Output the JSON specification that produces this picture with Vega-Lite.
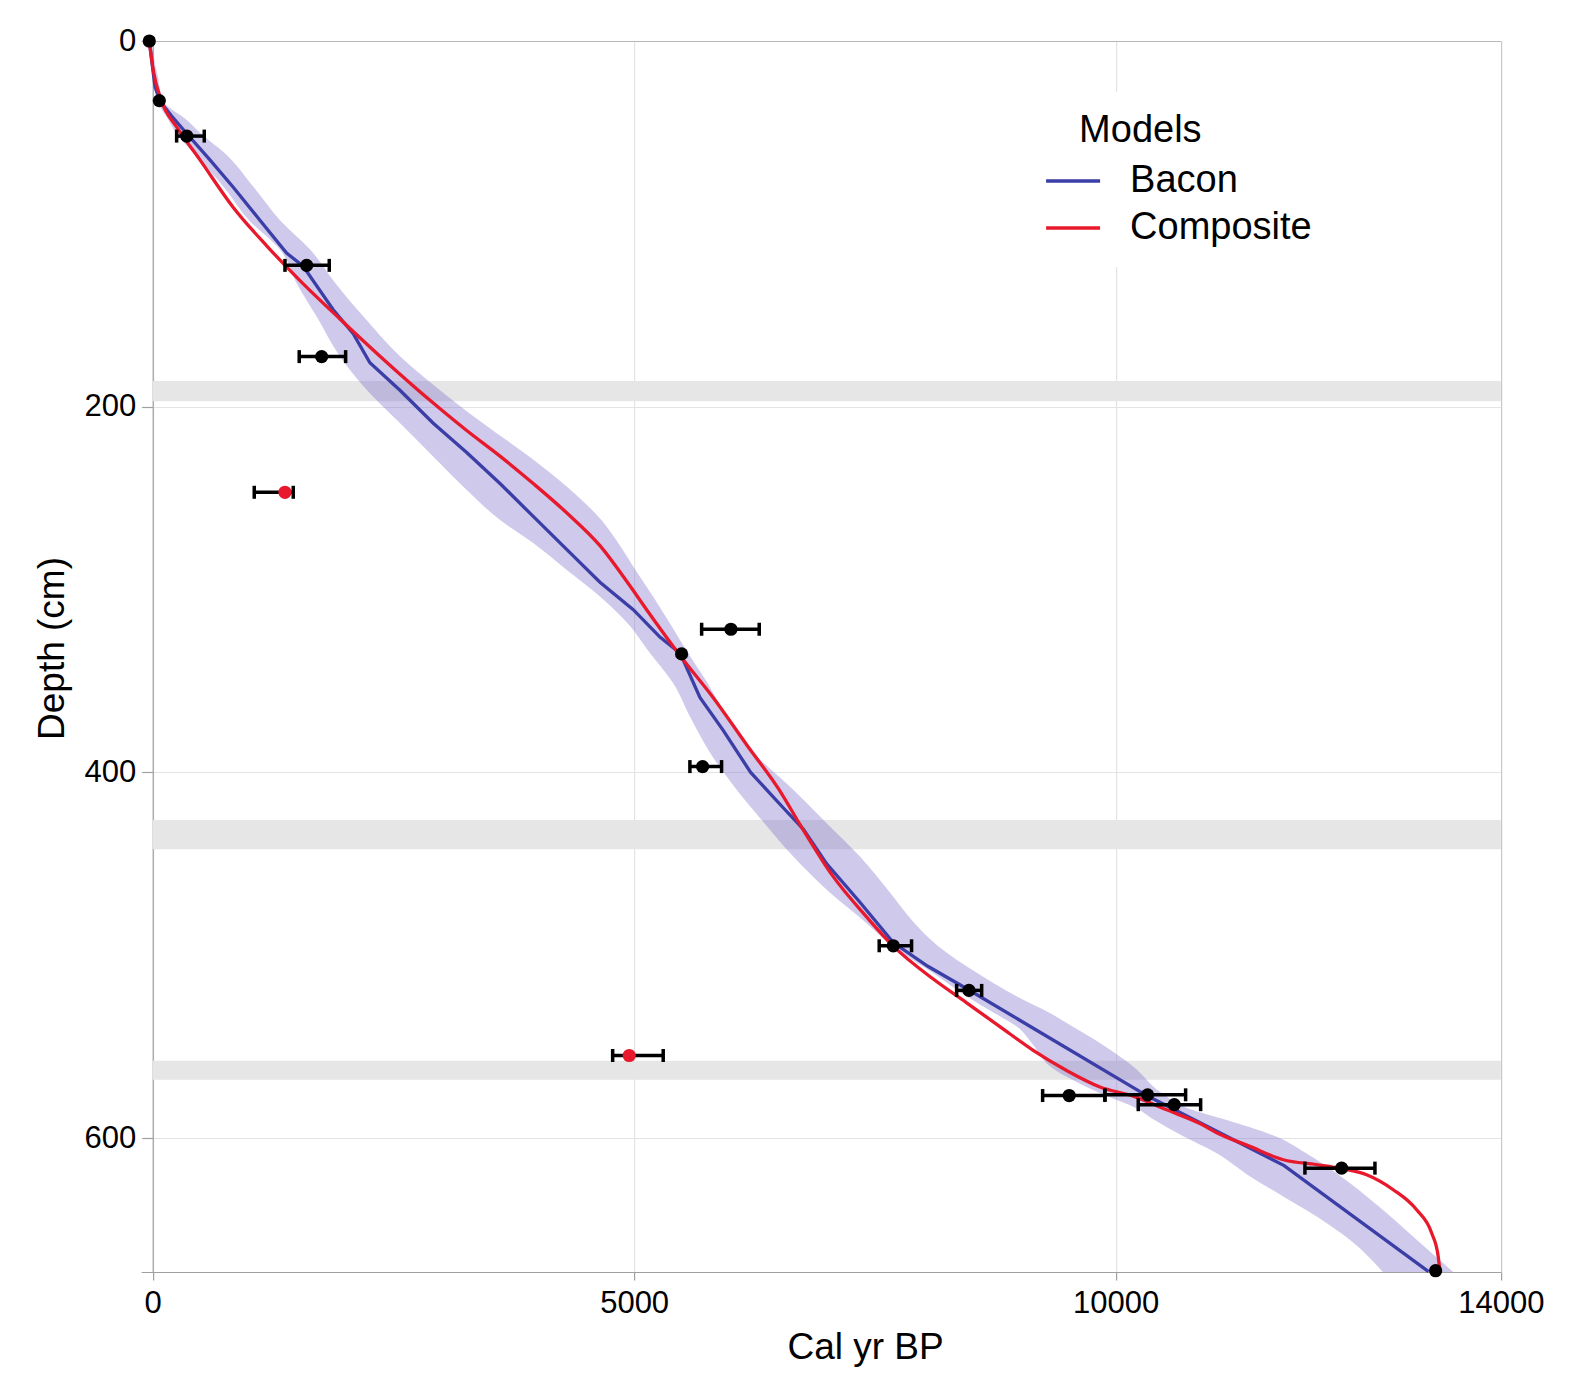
{
  "$schema": "https://vega.github.io/schema/vega-lite/v6.json",
  "width": 1359.7,
  "height": 1231,
  "autosize": {"type": "none"},
  "padding": {"left": 141.1, "top": 41, "right": 85.2, "bottom": 125},
  "background": "white",
  "config": {
    "font": "Liberation Sans",
    "view": {"stroke": null}
  },
  "datasets": {
    "grey": [
      {"d1": 186, "d2": 197},
      {"d1": 426, "d2": 442},
      {"d1": 557.7, "d2": 568}
    ],
    "band": [
      {"depth": 0, "lo": -45, "hi": -15},
      {"depth": 10, "lo": -15, "hi": 15},
      {"depth": 20, "lo": 15, "hi": 55},
      {"depth": 33, "lo": 50, "hi": 110},
      {"depth": 43, "lo": 162, "hi": 350},
      {"depth": 52, "lo": 266, "hi": 530},
      {"depth": 61, "lo": 420, "hi": 740},
      {"depth": 80, "lo": 740, "hi": 1050},
      {"depth": 98, "lo": 1000, "hi": 1322},
      {"depth": 114, "lo": 1322, "hi": 1635},
      {"depth": 133, "lo": 1501, "hi": 1906},
      {"depth": 151, "lo": 1706, "hi": 2194},
      {"depth": 172, "lo": 1938, "hi": 2560},
      {"depth": 190, "lo": 2210, "hi": 2962},
      {"depth": 208, "lo": 2549, "hi": 3402},
      {"depth": 227, "lo": 2908, "hi": 3903},
      {"depth": 245, "lo": 3251, "hi": 4329},
      {"depth": 262, "lo": 3608, "hi": 4660},
      {"depth": 275, "lo": 3962, "hi": 4840},
      {"depth": 289, "lo": 4294, "hi": 5010},
      {"depth": 304, "lo": 4650, "hi": 5200},
      {"depth": 320, "lo": 4960, "hi": 5390},
      {"depth": 333, "lo": 5140, "hi": 5540},
      {"depth": 351, "lo": 5403, "hi": 5761},
      {"depth": 370, "lo": 5585, "hi": 5966},
      {"depth": 390, "lo": 5798, "hi": 6256},
      {"depth": 410, "lo": 6073, "hi": 6663},
      {"depth": 428, "lo": 6357, "hi": 7005},
      {"depth": 446, "lo": 6653, "hi": 7345},
      {"depth": 465, "lo": 7017, "hi": 7646},
      {"depth": 482, "lo": 7405, "hi": 7905},
      {"depth": 495, "lo": 7687, "hi": 8158},
      {"depth": 510, "lo": 8113, "hi": 8571},
      {"depth": 522, "lo": 8440, "hi": 8956},
      {"depth": 532, "lo": 8753, "hi": 9331},
      {"depth": 539, "lo": 8974, "hi": 9552},
      {"depth": 548, "lo": 9129, "hi": 9837},
      {"depth": 561, "lo": 9325, "hi": 10186},
      {"depth": 575, "lo": 9823, "hi": 10470},
      {"depth": 584, "lo": 10230, "hi": 10770},
      {"depth": 590, "lo": 10400, "hi": 11146},
      {"depth": 599, "lo": 10702, "hi": 11660},
      {"depth": 608, "lo": 11041, "hi": 11971},
      {"depth": 621, "lo": 11397, "hi": 12340},
      {"depth": 632, "lo": 11744, "hi": 12611},
      {"depth": 643, "lo": 12092, "hi": 12859},
      {"depth": 656, "lo": 12441, "hi": 13135},
      {"depth": 673.2, "lo": 12775, "hi": 13506}
    ],
    "bacon": [
      {"model": "Bacon", "depth": 0, "age": -35},
      {"model": "Bacon", "depth": 25, "age": 24},
      {"model": "Bacon", "depth": 33, "age": 76},
      {"model": "Bacon", "depth": 41, "age": 197},
      {"model": "Bacon", "depth": 51, "age": 360},
      {"model": "Bacon", "depth": 65, "age": 595},
      {"model": "Bacon", "depth": 80, "age": 837},
      {"model": "Bacon", "depth": 98, "age": 1114},
      {"model": "Bacon", "depth": 116, "age": 1391},
      {"model": "Bacon", "depth": 123, "age": 1560},
      {"model": "Bacon", "depth": 147, "age": 1875},
      {"model": "Bacon", "depth": 160, "age": 2083},
      {"model": "Bacon", "depth": 176, "age": 2256},
      {"model": "Bacon", "depth": 191, "age": 2568},
      {"model": "Bacon", "depth": 209, "age": 2914},
      {"model": "Bacon", "depth": 225, "age": 3261},
      {"model": "Bacon", "depth": 242, "age": 3607},
      {"model": "Bacon", "depth": 260, "age": 3952},
      {"model": "Bacon", "depth": 278, "age": 4299},
      {"model": "Bacon", "depth": 296, "age": 4645},
      {"model": "Bacon", "depth": 311, "age": 4991},
      {"model": "Bacon", "depth": 326, "age": 5268},
      {"model": "Bacon", "depth": 335, "age": 5480},
      {"model": "Bacon", "depth": 359, "age": 5683},
      {"model": "Bacon", "depth": 377, "age": 5925},
      {"model": "Bacon", "depth": 400, "age": 6210},
      {"model": "Bacon", "depth": 420, "age": 6560},
      {"model": "Bacon", "depth": 431, "age": 6756},
      {"model": "Bacon", "depth": 450, "age": 7000},
      {"model": "Bacon", "depth": 471, "age": 7345},
      {"model": "Bacon", "depth": 493, "age": 7691},
      {"model": "Bacon", "depth": 506, "age": 8050},
      {"model": "Bacon", "depth": 519, "age": 8477},
      {"model": "Bacon", "depth": 577, "age": 10332},
      {"model": "Bacon", "depth": 615, "age": 11750},
      {"model": "Bacon", "depth": 673, "age": 13250}
    ],
    "composite": [
      {"model": "Composite", "depth": 0, "age": -35},
      {"model": "Composite", "depth": 16, "age": 6},
      {"model": "Composite", "depth": 33, "age": 93},
      {"model": "Composite", "depth": 47, "age": 249},
      {"model": "Composite", "depth": 65, "age": 491},
      {"model": "Composite", "depth": 91, "age": 837},
      {"model": "Composite", "depth": 112, "age": 1184},
      {"model": "Composite", "depth": 131, "age": 1530},
      {"model": "Composite", "depth": 152, "age": 1945},
      {"model": "Composite", "depth": 174, "age": 2395},
      {"model": "Composite", "depth": 198, "age": 2914},
      {"model": "Composite", "depth": 213, "age": 3261},
      {"model": "Composite", "depth": 227, "age": 3607},
      {"model": "Composite", "depth": 242, "age": 3952},
      {"model": "Composite", "depth": 258, "age": 4299},
      {"model": "Composite", "depth": 276, "age": 4645},
      {"model": "Composite", "depth": 296, "age": 4930},
      {"model": "Composite", "depth": 311, "age": 5130},
      {"model": "Composite", "depth": 337, "age": 5490},
      {"model": "Composite", "depth": 359, "age": 5820},
      {"model": "Composite", "depth": 385, "age": 6170},
      {"model": "Composite", "depth": 409, "age": 6500},
      {"model": "Composite", "depth": 430, "age": 6740},
      {"model": "Composite", "depth": 457, "age": 7068},
      {"model": "Composite", "depth": 479, "age": 7414},
      {"model": "Composite", "depth": 495, "age": 7691},
      {"model": "Composite", "depth": 513, "age": 8106},
      {"model": "Composite", "depth": 526, "age": 8453},
      {"model": "Composite", "depth": 539, "age": 8798},
      {"model": "Composite", "depth": 552, "age": 9144},
      {"model": "Composite", "depth": 563, "age": 9491},
      {"model": "Composite", "depth": 572, "age": 9837},
      {"model": "Composite", "depth": 577, "age": 10183},
      {"model": "Composite", "depth": 584.5, "age": 10530},
      {"model": "Composite", "depth": 592, "age": 10875},
      {"model": "Composite", "depth": 597, "age": 11049},
      {"model": "Composite", "depth": 604.5, "age": 11394},
      {"model": "Composite", "depth": 611.8, "age": 11741},
      {"model": "Composite", "depth": 614.5, "age": 12087},
      {"model": "Composite", "depth": 616.7, "age": 12347},
      {"model": "Composite", "depth": 620, "age": 12606},
      {"model": "Composite", "depth": 628.2, "age": 12883},
      {"model": "Composite", "depth": 639.2, "age": 13126},
      {"model": "Composite", "depth": 651.9, "age": 13282},
      {"model": "Composite", "depth": 664.7, "age": 13350},
      {"model": "Composite", "depth": 673, "age": 13368}
    ],
    "dates": [
      {"age": -35, "depth": 0, "lo": null, "hi": null, "status": "used"},
      {"age": 69, "depth": 32.6, "lo": null, "hi": null, "status": "used"},
      {"age": 355, "depth": 52, "lo": 249, "hi": 536, "status": "used"},
      {"age": 1599, "depth": 122.7, "lo": 1374, "hi": 1834, "status": "used"},
      {"age": 1755, "depth": 172.6, "lo": 1522, "hi": 2004, "status": "used"},
      {"age": 1374, "depth": 246.8, "lo": 1055, "hi": 1460, "status": "rejected"},
      {"age": 6005, "depth": 321.7, "lo": 5701, "hi": 6299, "status": "used"},
      {"age": 5493, "depth": 335.2, "lo": null, "hi": null, "status": "used"},
      {"age": 5711, "depth": 396.8, "lo": 5579, "hi": 5908, "status": "used"},
      {"age": 7691, "depth": 494.8, "lo": 7545, "hi": 7881, "status": "used"},
      {"age": 8477, "depth": 519.2, "lo": 8349, "hi": 8609, "status": "used"},
      {"age": 4949, "depth": 554.8, "lo": 4777, "hi": 5302, "status": "rejected"},
      {"age": 9518, "depth": 576.7, "lo": 9242, "hi": 9889, "status": "used"},
      {"age": 10332, "depth": 576.3, "lo": 9889, "hi": 10727, "status": "used"},
      {"age": 10609, "depth": 581.7, "lo": 10235, "hi": 10883, "status": "used"},
      {"age": 12347, "depth": 616.4, "lo": 11966, "hi": 12693, "status": "used"},
      {"age": 13323, "depth": 672.5, "lo": null, "hi": null, "status": "used"}
    ]
  },
  "layer": [
    {
      "data": {"name": "grey"},
      "mark": {"type": "rect", "color": "#e6e6e6"},
      "encoding": {
        "x": {"datum": 0, "type": "quantitative", "scale": {"domain": [-120, 14000], "nice": false, "zero": false}},
        "x2": {"datum": 14000},
        "y": {"field": "d1", "type": "quantitative", "scale": {"domain": [0, 673.2], "nice": false, "zero": false, "reverse": true}},
        "y2": {"field": "d2"}
      }
    },
    {
      "data": {"name": "band"},
      "mark": {"type": "area", "orient": "horizontal", "color": "#7b68c8", "opacity": 0.36, "interpolate": "monotone"},
      "encoding": {
        "x": {
          "field": "lo", "type": "quantitative",
          "scale": {"domain": [-120, 14000], "nice": false, "zero": false},
          "axis": {
            "values": [0, 5000, 10000, 14000], "format": "d",
            "title": "Cal yr BP", "titleFontSize": 37, "titleFontWeight": "normal", "titleColor": "black",
            "titleX": 724, "titleY": 86, "titleAlign": "center", "titleBaseline": "alphabetic",
            "labelFontSize": 31, "labelColor": "black", "labelPadding": 8, "labelFlush": false,
            "tickSize": 8, "tickColor": "#a0a0a0", "tickWidth": 1.2,
            "domainColor": "#a0a0a0", "domainWidth": 1.2,
            "grid": true, "gridWidth": 1.2,
            "gridColor": {"condition": {"test": "datum.value === 14000", "value": "#c8c8c8"}, "value": "#e3e3e3"}
          }
        },
        "x2": {"field": "hi"},
        "y": {
          "field": "depth", "type": "quantitative",
          "scale": {"domain": [0, 673.2], "nice": false, "zero": false, "reverse": true},
          "axis": {
            "values": [0, 200, 400, 600], "offset": -11.6,
            "title": "Depth (cm)", "titleFontSize": 37, "titleFontWeight": "normal", "titleColor": "black",
            "titleX": -89, "titleY": 607, "titleAngle": 270, "titleAlign": "center", "titleBaseline": "alphabetic",
            "labelFontSize": 31, "labelColor": "black", "labelPadding": 6, "labelFlush": false,
            "tickSize": 11, "tickColor": "#a0a0a0", "tickWidth": 1.2,
            "domainColor": "#a0a0a0", "domainWidth": 1.2,
            "grid": true, "gridWidth": 1.2,
            "gridColor": {"condition": {"test": "datum.value === 0", "value": "#b8b8b8"}, "value": "#e3e3e3"}
          }
        }
      }
    },
    {
      "data": {"name": "bacon"},
      "mark": {"type": "line", "strokeWidth": 3.3, "interpolate": "linear"},
      "encoding": {
        "x": {"field": "age", "type": "quantitative", "scale": {"domain": [-120, 14000], "nice": false, "zero": false}},
        "y": {"field": "depth", "type": "quantitative", "scale": {"domain": [0, 673.2], "nice": false, "zero": false, "reverse": true}},
        "order": {"field": "depth", "type": "quantitative"},
        "color": {
          "field": "model", "type": "nominal",
          "scale": {"domain": ["Bacon", "Composite"], "range": ["#3a3ea6", "#e8192c"]},
          "legend": {
            "orient": "none", "legendX": 918, "legendY": 51,
            "title": "Models", "titleFontSize": 38, "titleFontWeight": "normal", "titleColor": "black",
            "labelFontSize": 38, "labelColor": "black", "labelLimit": 0,
            "symbolType": "M-2,0H2", "symbolSize": 729, "symbolStrokeWidth": 3.5,
            "symbolOffset": -25, "labelOffset": 38,
            "padding": 20, "fillColor": "white", "rowPadding": 9, "titlePadding": 12
          }
        }
      }
    },
    {
      "data": {"name": "composite"},
      "mark": {"type": "line", "strokeWidth": 3.3, "interpolate": "monotone"},
      "encoding": {
        "x": {"field": "age", "type": "quantitative", "scale": {"domain": [-120, 14000], "nice": false, "zero": false}},
        "y": {"field": "depth", "type": "quantitative", "scale": {"domain": [0, 673.2], "nice": false, "zero": false, "reverse": true}},
        "order": {"field": "depth", "type": "quantitative"},
        "color": {"field": "model", "type": "nominal"}
      }
    },
    {
      "data": {"name": "dates"},
      "transform": [{"filter": "datum.lo != null"}],
      "mark": {"type": "rule", "color": "#000000", "strokeWidth": 3.5},
      "encoding": {
        "x": {"field": "lo", "type": "quantitative", "scale": {"domain": [-120, 14000], "nice": false, "zero": false}},
        "x2": {"field": "hi"},
        "y": {"field": "depth", "type": "quantitative", "scale": {"domain": [0, 673.2], "nice": false, "zero": false, "reverse": true}}
      }
    },
    {
      "data": {"name": "dates"},
      "transform": [{"filter": "datum.lo != null"}],
      "mark": {"type": "tick", "orient": "vertical", "color": "#000000", "size": 13, "thickness": 3.5, "opacity": 1},
      "encoding": {
        "x": {"field": "lo", "type": "quantitative", "scale": {"domain": [-120, 14000], "nice": false, "zero": false}},
        "y": {"field": "depth", "type": "quantitative", "scale": {"domain": [0, 673.2], "nice": false, "zero": false, "reverse": true}}
      }
    },
    {
      "data": {"name": "dates"},
      "transform": [{"filter": "datum.hi != null"}],
      "mark": {"type": "tick", "orient": "vertical", "color": "#000000", "size": 13, "thickness": 3.5, "opacity": 1},
      "encoding": {
        "x": {"field": "hi", "type": "quantitative", "scale": {"domain": [-120, 14000], "nice": false, "zero": false}},
        "y": {"field": "depth", "type": "quantitative", "scale": {"domain": [0, 673.2], "nice": false, "zero": false, "reverse": true}}
      }
    },
    {
      "data": {"name": "dates"},
      "mark": {"type": "point", "filled": true, "size": 175, "opacity": 1},
      "encoding": {
        "x": {"field": "age", "type": "quantitative", "scale": {"domain": [-120, 14000], "nice": false, "zero": false}},
        "y": {"field": "depth", "type": "quantitative", "scale": {"domain": [0, 673.2], "nice": false, "zero": false, "reverse": true}},
        "fill": {"field": "status", "type": "nominal", "scale": {"domain": ["used", "rejected"], "range": ["#000000", "#e8192c"]}, "legend": null}
      }
    }
  ]
}
